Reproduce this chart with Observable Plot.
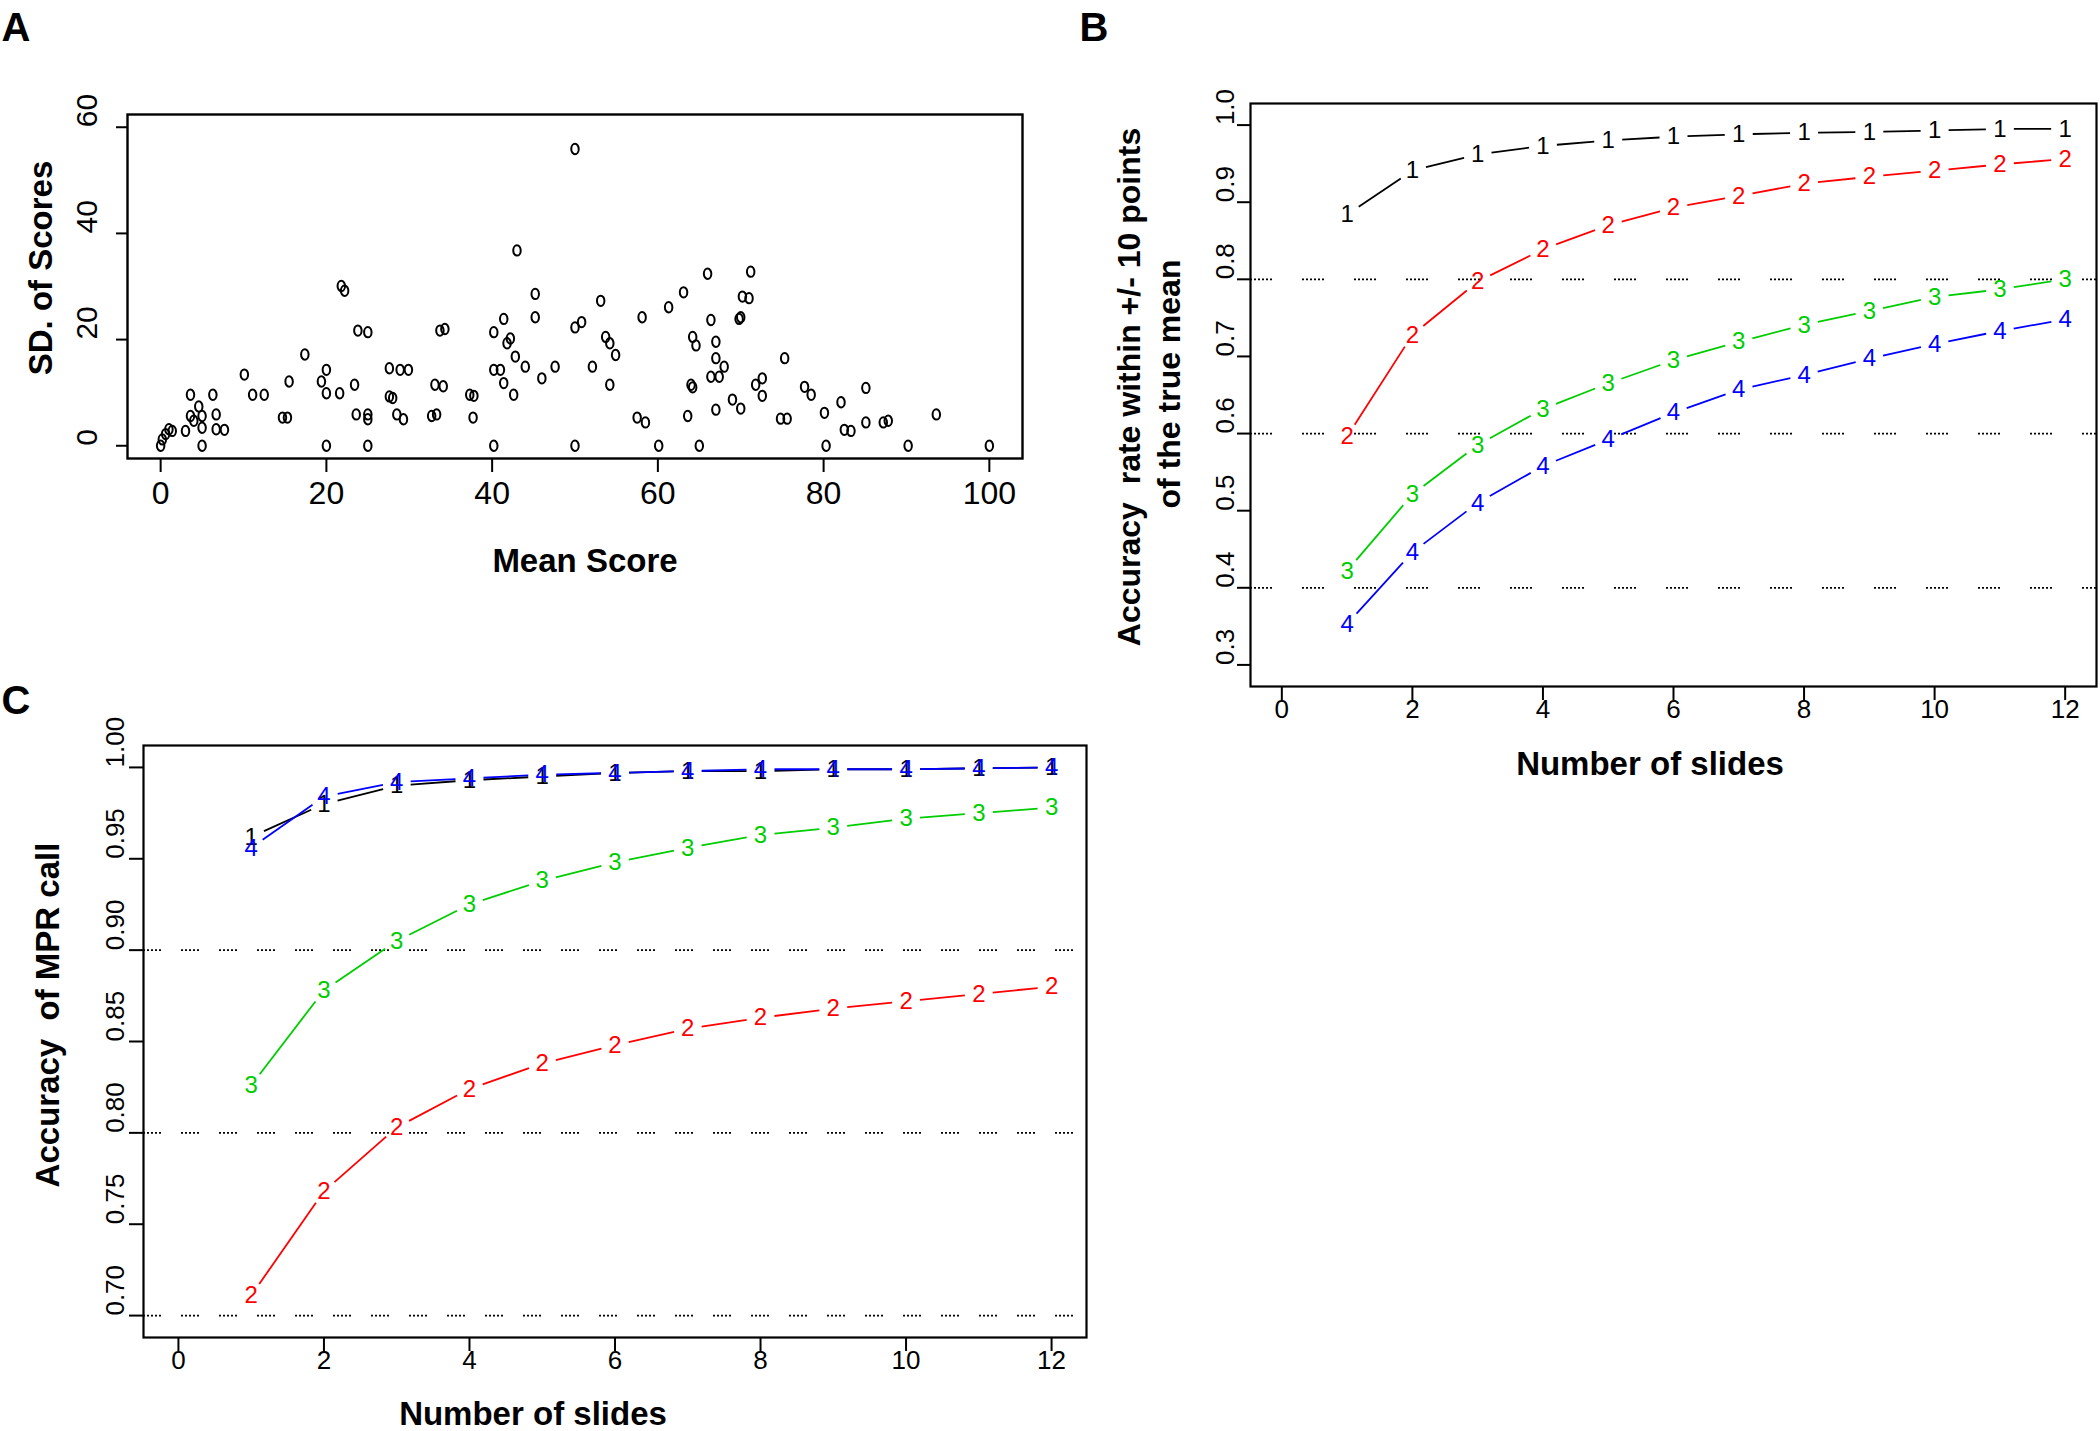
<!DOCTYPE html>
<html><head><meta charset="utf-8">
<script src="https://cdn.jsdelivr.net/npm/d3@7"></script>
<script src="https://cdn.jsdelivr.net/npm/@observablehq/plot@0.6"></script>
<style>
html,body{margin:0;padding:0;background:#fff;}
#root{position:relative;width:2100px;height:1431px;overflow:hidden;background:#fff;font-family:"Liberation Sans",Arial,sans-serif;}
.pane{position:absolute;}
.lbl{position:absolute;font-weight:bold;white-space:pre;color:#000;line-height:1;}
.rot{transform:translate(-50%,-50%) rotate(-90deg);}
.ctr{transform:translate(-50%,-50%);}
g[aria-label$="tick"], g[aria-label$="tick"] path, g[aria-label$="tick"] line{stroke-width:2px !important;}
</style></head><body><div id="root"></div>
<script>
// ---------------- Panel A data ----------------
const meanScore = [0,0.2,0.6,1.0,1.4,3.0,3.6,3.6,4.6,4.0,5.0,5.0,6.3,6.7,6.7,7.7,5.0,10.1,11.1,12.5,14.7,15.3,15.5,17.4,20.0,19.4,20.0,20.0,21.6,21.8,22.2,23.4,23.6,23.8,25.0,25.0,25.0,25.0,27.6,28.9,29.9,27.6,28.0,28.5,29.3,32.7,33.3,33.1,33.7,
  34.1,34.3,37.3,37.8,37.7,40.2,40.2,41.4,40.2,41.0,41.4,41.8,42.2,42.8,42.6,43.0,44.0,45.2,45.2,46.0,47.6,50.0,50.0,50.0,50.8,52.1,53.1,53.7,54.2,54.9,54.2,57.5,58.5,58.1,60.1,61.3,63.1,63.6,64.0,64.2,64.2,64.6,65.0,66.0,66.4,67.0,67.0,66.4,67.4,68.0,67.0,69.0,
  71.2,70.2,71.0,69.8,70.0,70.0,71.8,72.6,72.6,75.3,74.8,75.6,77.7,78.5,80.1,80.3,82.1,82.5,83.3,85.1,85.1,87.2,87.8,90.2,93.6,100];
const sdScore = [0,1.2,2.2,3.1,2.8,2.8,5.6,9.6,7.4,4.7,3.4,5.6,9.6,5.9,3.1,3.0,0,13.4,9.6,9.6,5.3,5.3,12.1,17.2,0,12.1,14.3,9.9,9.9,30.1,29.2,11.5,5.9,21.7,21.4,5.9,0,5.0,14.6,14.3,14.3,9.3,9.0,5.9,5.0,5.6,5.9,11.5,21.7,
  11.2,22.0,9.6,9.4,5.3,0,21.4,23.9,14.3,14.3,11.8,19.3,20.2,16.8,9.6,36.8,14.9,28.6,24.2,12.7,14.9,55.9,0,22.3,23.3,14.9,27.3,20.5,19.3,17.1,11.5,5.3,4.4,24.2,0,26.1,28.9,5.6,11.5,11.0,20.5,18.9,0,32.4,23.7,19.6,16.5,13.0,13.0,14.9,6.8,8.7,
  32.8,28.1,27.8,23.9,24.2,7.0,11.5,12.7,9.4,16.5,5.1,5.1,11.1,9.6,6.2,0,8.2,3.0,2.8,10.9,4.4,4.4,4.7,0,5.9,0];
const ticksA_x = [0,20,40,60,80,100];
const ticksA_y = [0,20,40,60];

// ---------------- Panel B data ----------------
const slides = [1,2,3,4,5,6,7,8,9,10,11,12];
const seriesLabels = ["1","2","3","4"];
const seriesColors = ["#000000","#ff0000","#00cd00","#0000ff"];
const accB1 = [0.884,0.941,0.962,0.973,0.980,0.985,0.988,0.990,0.991,0.993,0.995,0.995];
const accB2 = [0.596,0.728,0.797,0.839,0.870,0.893,0.908,0.924,0.933,0.941,0.949,0.956];
const accB3 = [0.422,0.521,0.585,0.632,0.665,0.695,0.719,0.741,0.759,0.777,0.787,0.800];
const accB4 = [0.353,0.446,0.510,0.558,0.592,0.627,0.657,0.676,0.697,0.716,0.733,0.748];
const ticksB_x = [0,2,4,6,8,10,12];
const ticksB_y = [0.3,0.4,0.5,0.6,0.7,0.8,0.9,1.0];
const gridB = [0.4,0.6,0.8];

// ---------------- Panel C data ----------------
const accC1 = [0.962,0.980,0.990,0.993,0.995,0.997,0.998,0.998,0.999,0.999,0.9995,1.000];
const accC2 = [0.711,0.768,0.803,0.824,0.838,0.848,0.857,0.863,0.868,0.872,0.876,0.880];
const accC3 = [0.826,0.878,0.905,0.925,0.938,0.948,0.956,0.963,0.967,0.972,0.975,0.978];
const accC4 = [0.956,0.984,0.992,0.994,0.996,0.997,0.998,0.999,0.999,0.999,0.9995,1.000];
const ticksC_x = [0,2,4,6,8,10,12];
const ticksC_y = [0.70,0.75,0.80,0.85,0.90,0.95,1.00];
const gridC = [0.7,0.8,0.9];

const root = document.getElementById("root");
const FONT = '"Liberation Sans", Arial, sans-serif';
const NARROW = '"Liberation Sans Narrow", "Arial Narrow", "Liberation Sans", Arial, sans-serif';

function addLabel(text, x, y, size, rot, weight) {
  const d = document.createElement("div");
  d.className = "lbl " + (rot ? "rot" : "ctr");
  d.style.left = x + "px"; d.style.top = y + "px";
  d.style.fontSize = size + "px";
  if (weight) d.style.fontWeight = weight;
  d.textContent = text;
  root.appendChild(d);
}

// oval symbol like R's open circle rendered in the figure
const oval = {
  draw(ctx, size) {
    const r = Math.sqrt(size / Math.PI), rx = r * 0.78, ry = r * 1.08, k = 0.5523;
    ctx.moveTo(rx, 0);
    ctx.bezierCurveTo(rx, ry * k, rx * k, ry, 0, ry);
    ctx.bezierCurveTo(-rx * k, ry, -rx, ry * k, -rx, 0);
    ctx.bezierCurveTo(-rx, -ry * k, -rx * k, -ry, 0, -ry);
    ctx.bezierCurveTo(rx * k, -ry, rx, -ry * k, rx, 0);
    ctx.closePath();
  }
};

// ---------------- Panel A ----------------
const scatter = meanScore.map((m, i) => ({mean: m, sd: sdScore[i]}));
const plotA = Plot.plot({
  width: 1050, height: 600,
  marginLeft: 127, marginRight: 28, marginTop: 114, marginBottom: 142,
  style: {background: "transparent", fontFamily: NARROW, overflow: "visible"},
  x: {domain: [-4, 104], ticks: ticksA_x, tickSize: 14, tickFormat: () => "", label: null},
  y: {domain: [-2.4, 62.4], ticks: ticksA_y, tickSize: 11, tickFormat: () => "", label: null},
  marks: [
    Plot.dot(scatter, {x: "mean", y: "sd", symbol: oval, r: 4.8, stroke: "black", strokeWidth: 2, fill: "none"}),
    Plot.text(ticksA_x, {x: d => d, frameAnchor: "bottom", dy: 45, text: d => String(d), fontSize: 32, fill: "black"}),
    Plot.text(ticksA_y, {y: d => d, frameAnchor: "left", dx: -40, rotate: -90, text: d => String(d), fontSize: 30, fill: "black"}),
    Plot.frame({stroke: "black", strokeWidth: 2.4})
  ]
});
const wA = document.createElement("div"); wA.className = "pane";
wA.style.left = "0px"; wA.style.top = "0px";
wA.appendChild(plotA); root.appendChild(wA);

// ---------------- helpers for line charts ----------------
function seriesMarks(series, inset, fontSize, lw) {
  const marks = [];
  series.forEach((vals, s) => {
    const segs = vals.slice(0, -1).map((v, i) => ({x1: slides[i], y1: v, x2: slides[i + 1], y2: vals[i + 1]}));
    marks.push(Plot.arrow(segs, {x1: "x1", y1: "y1", x2: "x2", y2: "y2", stroke: seriesColors[s], strokeWidth: lw,
      insetStart: inset, insetEnd: inset, headLength: 0, strokeLinecap: "butt"}));
  });
  series.forEach((vals, s) => {
    const pts = vals.map((v, i) => ({x: slides[i], y: v}));
    marks.push(Plot.text(pts, {x: "x", y: "y", text: () => seriesLabels[s], fill: seriesColors[s], fontSize, fontFamily: FONT}));
  });
  return marks;
}

// ---------------- Panel B ----------------
const plotB = Plot.plot({
  width: 895, height: 800,
  marginLeft: 45, marginRight: 4, marginTop: 103, marginBottom: 114,
  style: {background: "transparent", fontFamily: FONT, overflow: "visible"},
  x: {domain: [-0.48, 12.48], ticks: ticksB_x, tickSize: 14, tickFormat: () => "", label: null},
  y: {domain: [0.272, 1.028], ticks: ticksB_y, tickSize: 13, tickFormat: () => "", label: null},
  marks: [
    Plot.ruleY(gridB, {y: d => d, stroke: "black", strokeWidth: 1.7, strokeDasharray: "2,2,2,2,2,2,2,2,2,2,2,30"}),
    ...seriesMarks([accB1, accB2, accB3, accB4], 14, 24, 1.8),
    Plot.text(ticksB_x, {x: d => d, frameAnchor: "bottom", dy: 31, text: d => String(d), fontSize: 26, fill: "black"}),
    Plot.text(ticksB_y, {y: d => d, frameAnchor: "left", dx: -25, rotate: -90, text: d => d.toFixed(1), fontSize: 26, fill: "black"}),
    Plot.frame({stroke: "black", strokeWidth: 2.2})
  ]
});
const wB = document.createElement("div"); wB.className = "pane";
wB.style.left = "1205px"; wB.style.top = "0px"; wB.style.width = "895px"; wB.style.height = "800px"; wB.style.overflow = "hidden";
wB.appendChild(plotB); root.appendChild(wB);

// ---------------- Panel C ----------------
const plotC = Plot.plot({
  width: 1100, height: 741,
  marginLeft: 143, marginRight: 14, marginTop: 55, marginBottom: 94,
  style: {background: "transparent", fontFamily: FONT, overflow: "visible"},
  x: {domain: [-0.48, 12.48], ticks: ticksC_x, tickSize: 14, tickFormat: () => "", label: null},
  y: {domain: [0.688, 1.012], ticks: ticksC_y, tickSize: 14, tickFormat: () => "", label: null},
  marks: [
    Plot.ruleY(gridC, {y: d => d, stroke: "black", strokeWidth: 1.7, strokeDasharray: "2,2,2,2,2,2,2,2,2,20"}),
    ...seriesMarks([accC1, accC2, accC3, accC4], 14, 24, 1.8),
    Plot.text(ticksC_x, {x: d => d, frameAnchor: "bottom", dy: 31, text: d => String(d), fontSize: 26, fill: "black"}),
    Plot.text(ticksC_y, {y: d => d, frameAnchor: "left", dx: -28, rotate: -90, text: d => d.toFixed(2), fontSize: 26, fill: "black"}),
    Plot.frame({stroke: "black", strokeWidth: 2.2})
  ]
});
const wC = document.createElement("div"); wC.className = "pane";
wC.style.left = "0px"; wC.style.top = "690px";
wC.appendChild(plotC); root.appendChild(wC);

// ---------------- Titles and panel letters ----------------
addLabel("A", 16, 27, 40, false);
addLabel("B", 1094, 27, 40, false);
addLabel("C", 16, 700, 40, false);
addLabel("Mean Score", 585, 560, 33, false);
addLabel("SD. of Scores", 40, 268, 33, true);
addLabel("Number of slides", 1650, 763, 33, false);
addLabel("Accuracy  rate within +/- 10 points", 1129, 387, 32, true);
addLabel("of the true mean", 1169, 384, 32, true);
addLabel("Number of slides", 533, 1413, 33, false);
addLabel("Accuracy  of MPR call", 47, 1015, 33, true);
</script></body></html>
